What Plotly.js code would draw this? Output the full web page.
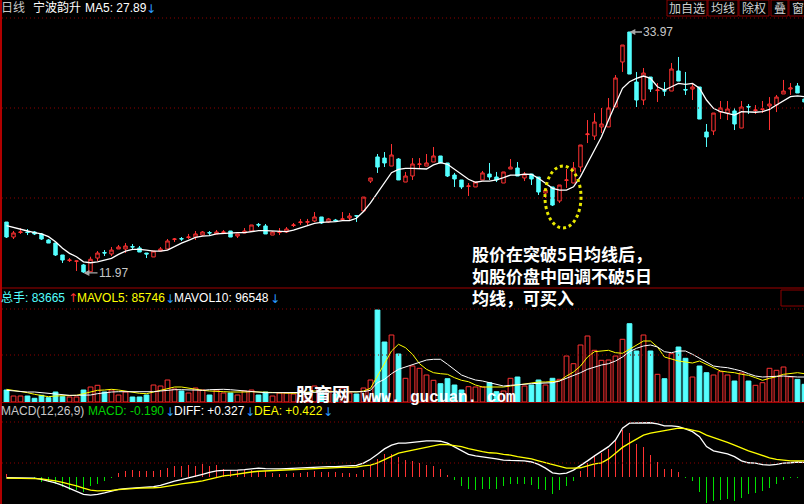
<!DOCTYPE html>
<html><head><meta charset="utf-8">
<script src="https://cdn.plot.ly/plotly-3.0.1.min.js"></script>
<style>html,body{margin:0;padding:0;background:#000;}#chart{width:804px;height:504px;}</style>
</head><body><div id="chart"></div>
<script>
// ---- daily OHLC of 宁波韵升 ----
const openP = [16.62,15.25,15.66,15.71,15.71,15.53,14.98,14.70,13.61,13.10,13.04,12.70,12.08,13.33,13.84,13.70,14.16,14.16,14.38,14.25,13.79,13.43,13.97,14.16,15.03,15.11,15.20,15.25,15.43,15.66,15.53,15.66,15.80,15.34,15.62,15.80,16.40,16.26,15.43,15.66,15.71,16.30,16.57,16.60,16.71,17.08,16.62,16.80,16.85,16.99,17.20,17.63,20.36,22.56,22.46,21.73,22.37,20.27,20.82,21.88,21.73,22.10,22.65,22.01,20.91,20.46,19.87,19.82,20.46,21.00,20.73,20.18,21.46,21.55,20.64,21.00,20.73,19.27,19.82,18.54,20.42,20.18,21.64,24.60,24.47,25.30,25.30,27.12,31.23,33.97,29.40,27.76,29.86,28.62,28.62,28.58,30.41,28.72,28.76,28.95,24.84,24.93,26.66,26.57,26.76,25.20,27.17,26.80,26.90,27.21,27.30,28.31,28.76,29.04,27.85];
const highP = [16.62,15.80,16.07,15.98,15.80,15.62,15.07,14.70,13.61,13.33,13.10,12.79,13.45,13.97,14.06,14.34,14.52,14.70,14.61,14.43,13.79,13.97,14.34,15.07,15.16,15.25,15.53,15.80,15.80,15.80,15.89,15.89,15.80,15.53,16.07,16.35,16.53,16.44,15.80,16.07,16.16,16.53,16.90,16.90,17.53,17.08,16.99,16.90,17.53,17.44,17.26,18.90,20.64,22.83,23.01,23.74,22.46,21.19,22.46,22.46,22.83,23.47,22.65,22.01,21.10,20.46,20.18,20.27,21.28,22.01,21.19,21.19,22.37,22.10,21.19,21.00,20.73,19.73,19.82,20.00,21.46,22.10,23.65,25.93,26.57,27.03,27.94,30.04,32.78,33.97,30.32,30.68,29.86,29.31,29.40,31.14,31.69,30.32,29.31,28.95,25.57,26.57,27.67,27.67,27.03,27.67,27.39,27.30,27.67,28.03,28.22,29.59,29.31,29.31,27.85];
const lowP = [15.16,15.07,15.53,15.43,15.43,14.98,14.70,13.52,12.88,12.97,12.15,11.97,12.06,13.06,13.52,13.52,14.16,13.79,14.06,13.88,13.33,13.43,13.97,14.16,14.80,14.89,15.07,14.98,15.34,15.43,15.53,15.53,15.25,15.16,15.62,15.71,16.16,15.53,15.43,15.43,15.62,16.16,16.35,16.35,16.62,16.44,16.53,16.71,16.80,16.71,16.62,17.63,20.18,21.10,21.64,21.73,20.46,20.27,20.46,21.55,21.73,22.10,22.01,20.73,19.82,19.63,19.00,19.82,20.46,20.46,20.27,20.18,21.46,20.82,20.36,20.00,19.09,18.81,18.08,18.36,19.73,20.18,21.19,23.83,24.11,24.75,25.30,27.12,30.32,30.13,27.12,27.30,28.49,27.58,28.13,28.58,29.49,28.22,27.76,26.02,23.47,24.56,26.02,25.93,25.02,25.20,26.48,26.48,26.57,25.02,26.66,28.31,28.22,28.40,27.58];
const closeP = [15.25,15.62,15.71,15.66,15.53,15.07,14.70,13.61,13.15,13.15,13.06,12.06,13.22,13.79,13.79,14.06,14.34,14.43,14.34,13.88,13.70,13.97,14.16,14.89,15.07,15.07,15.25,15.53,15.71,15.62,15.71,15.71,15.25,15.53,15.80,16.35,16.35,15.53,15.71,15.71,15.98,16.35,16.62,16.65,17.08,16.53,16.90,16.71,16.90,17.17,17.17,18.90,20.64,21.64,22.01,22.74,20.46,20.82,21.92,21.92,22.01,22.65,22.01,20.82,20.55,19.82,19.91,20.27,21.10,20.73,20.46,21.19,21.64,20.82,21.00,20.55,19.36,19.54,18.17,20.00,20.46,21.55,23.65,24.66,25.75,25.57,27.03,29.77,32.78,30.13,27.76,30.22,28.76,28.67,28.58,30.59,29.49,28.67,28.95,26.02,24.38,26.57,27.03,26.94,25.57,27.12,27.12,26.85,26.94,27.39,28.03,28.58,28.86,28.40,27.58];
const ma5 = [16.28,16.10,15.98,15.80,15.65,15.53,15.28,14.82,14.22,13.76,13.45,12.99,12.90,12.99,13.15,13.31,13.67,13.97,14.13,14.13,14.06,13.97,13.97,14.06,14.37,14.70,14.95,15.21,15.34,15.37,15.53,15.59,15.59,15.65,15.65,15.74,15.83,15.83,15.80,15.80,15.74,15.89,16.10,16.26,16.50,16.59,16.59,16.65,16.74,16.74,16.96,17.58,18.36,19.27,20.16,21.12,21.43,21.52,21.52,21.52,21.46,21.83,22.04,21.89,21.43,20.91,20.52,20.25,20.36,20.36,20.46,20.67,20.91,20.91,21.00,20.98,20.61,20.16,19.70,19.54,19.54,19.84,20.76,21.98,23.20,24.41,25.93,27.46,28.83,29.43,29.74,29.95,29.74,28.97,28.67,28.97,29.28,29.19,29.28,28.83,27.76,27.00,26.69,26.55,26.39,26.69,26.64,26.64,26.69,26.91,27.30,27.70,28.06,28.13,28.06];
// ---- volume (手) ----
const volume = [44400,22200,22200,22200,13700,24800,15900,37000,19600,18500,18500,44400,55500,61800,37000,44400,25900,37000,18500,18500,25900,62900,59200,81400,48100,40700,33300,51800,44400,25900,44400,33300,33300,25900,40700,44400,25900,37000,22200,33300,33300,29600,51800,33300,59200,33300,51800,29600,51800,33300,29600,51800,81400,340400,222000,247900,177600,87700,133200,124700,99900,80300,67700,86200,62900,44400,56600,55500,55500,71400,38100,40700,87700,92500,59200,62900,81400,62900,87700,84000,170200,141700,210900,244200,191300,154300,155400,170200,232000,289700,188700,247900,188700,102500,86200,178700,203500,161700,92500,133200,108400,99900,112100,99900,77700,107300,77700,61800,71400,124700,117300,129500,92500,83665,65500];
const mavol5 = [47000,43300,40700,34400,28500,24800,19600,22200,22200,22200,24800,30700,38100,43300,44400,47000,44400,40700,34400,32200,30700,37000,43300,49200,55500,55500,50700,45500,43300,40700,40700,38100,37000,35900,37000,38100,37000,38100,34400,33300,33300,32200,34400,35900,40700,39600,40700,37000,38100,38100,37000,40700,50700,96200,145400,188700,213500,200900,176500,141700,121000,108400,104700,102500,89900,80300,75100,62900,55500,55500,55500,55500,59200,62900,65500,70300,74000,74000,75100,77700,96200,111000,133200,166500,186100,188700,191300,182400,180200,195000,210900,225700,225700,203500,166500,158000,151700,148000,144300,151700,139500,129500,114700,111000,108400,102500,98800,89900,80300,87700,93600,102500,104700,108400,104700];
const mavol10 = [43300,40700,38100,37000,37000,34400,30700,28500,25900,24800,24800,24800,25900,30700,34400,37000,38100,38100,37000,37000,37000,38100,40700,43300,45500,45500,44400,43300,43300,45500,47000,47000,45500,43300,40700,38100,35900,34400,34400,34400,33300,33300,34400,34400,35900,35900,37000,37000,37000,37000,38100,38100,43300,71400,84000,104700,121000,129500,136900,148000,155400,158000,158000,139500,121000,99900,89900,81400,77700,71400,65500,59200,61800,62900,65500,67700,69200,70300,71400,77700,87700,96200,108400,121000,129500,136900,141700,151700,166500,186100,198700,207200,210900,203500,186100,182400,188700,188700,176500,161700,148000,133200,129500,126900,121000,114700,104700,96200,92500,92500,95100,96200,93600,92500,92500];
// ---- MACD(12,26,9) ----
const macd = [0.08,-0.01,-0.01,-0.01,-0.02,-0.13,-0.13,-0.18,-0.26,-0.34,-0.34,-0.39,-0.23,-0.18,-0.10,-0.03,0.10,0.16,0.18,0.16,0.16,0.16,0.18,0.23,0.29,0.29,0.31,0.29,0.34,0.29,0.31,0.21,0.18,0.18,0.18,0.18,0.16,0.16,0.10,0.08,0.08,0.10,0.10,0.13,0.16,0.13,0.13,0.13,0.10,0.10,0.08,0.18,0.31,0.47,0.60,0.60,0.52,0.44,0.42,0.36,0.31,0.29,0.21,0.05,-0.08,-0.23,-0.31,-0.34,-0.31,-0.31,-0.31,-0.23,-0.18,-0.18,-0.18,-0.21,-0.31,-0.34,-0.44,-0.34,-0.23,-0.10,0.16,0.36,0.55,0.62,0.73,0.94,1.22,1.14,0.86,0.78,0.57,0.39,0.21,0.21,0.13,-0.03,-0.10,-0.39,-0.68,-0.62,-0.60,-0.57,-0.62,-0.55,-0.44,-0.42,-0.36,-0.29,-0.18,-0.08,-0.03,-0.03,-0.03];
const diff = [-0.02,-0.02,-0.02,-0.03,-0.03,-0.06,-0.10,-0.15,-0.22,-0.30,-0.38,-0.45,-0.47,-0.45,-0.41,-0.36,-0.32,-0.30,-0.29,-0.27,-0.26,-0.25,-0.22,-0.16,-0.11,-0.07,-0.03,0.03,0.07,0.12,0.16,0.17,0.17,0.18,0.19,0.21,0.23,0.22,0.21,0.21,0.22,0.23,0.24,0.25,0.26,0.27,0.27,0.27,0.28,0.29,0.30,0.36,0.46,0.59,0.73,0.83,0.88,0.88,0.90,0.92,0.94,0.94,0.93,0.88,0.79,0.68,0.59,0.55,0.53,0.50,0.47,0.44,0.43,0.43,0.42,0.39,0.33,0.23,0.11,0.08,0.10,0.18,0.29,0.42,0.55,0.66,0.79,0.96,1.27,1.40,1.40,1.41,1.41,1.38,1.33,1.33,1.31,1.25,1.18,1.05,0.79,0.68,0.63,0.60,0.53,0.42,0.37,0.36,0.32,0.31,0.33,0.36,0.37,0.39,0.38];
const dea = [-0.03,-0.03,-0.03,-0.03,-0.04,-0.05,-0.07,-0.10,-0.14,-0.18,-0.23,-0.29,-0.34,-0.36,-0.36,-0.35,-0.33,-0.31,-0.30,-0.29,-0.29,-0.28,-0.27,-0.23,-0.21,-0.18,-0.16,-0.13,-0.10,-0.06,-0.03,0.03,0.05,0.08,0.10,0.13,0.15,0.16,0.17,0.18,0.18,0.19,0.20,0.21,0.22,0.23,0.23,0.24,0.25,0.25,0.26,0.29,0.31,0.37,0.46,0.53,0.62,0.66,0.70,0.74,0.77,0.81,0.85,0.84,0.82,0.79,0.74,0.69,0.66,0.63,0.62,0.59,0.57,0.53,0.50,0.47,0.42,0.37,0.31,0.27,0.23,0.23,0.24,0.29,0.34,0.37,0.47,0.62,0.77,0.88,0.98,1.09,1.14,1.18,1.20,1.24,1.27,1.26,1.22,1.18,1.09,1.03,0.96,0.90,0.83,0.75,0.68,0.62,0.55,0.50,0.46,0.43,0.42,0.42,0.42];

const RED = '#FF3232', CYAN = '#54FFFF', GREEN = '#00E000', YEL = '#FFFF00', GRID = '#8C0000';
const W = 804, H = 504;
const fx = x => x / W, fy = y => 1 - y / H;
const idx = closeP.map((_, i) => i);
const up = closeP.map((c, i) => c >= openP[i]);

const traces = [
  {type:'candlestick', x:idx, open:openP, high:highP, low:lowP, close:closeP, xaxis:'x', yaxis:'y',
   increasing:{line:{color:RED,width:1}, fillcolor:'#000000'},
   decreasing:{line:{color:CYAN,width:1}, fillcolor:CYAN},
   whiskerwidth:0, hoverinfo:'skip'},
  {type:'scatter', mode:'lines', x:idx, y:ma5, xaxis:'x', yaxis:'y', line:{color:'#FFFFFF', width:1.3}, hoverinfo:'skip'},
  {type:'bar', x:idx, y:volume, xaxis:'x', yaxis:'y2', width:0.68,
   marker:{color: up.map(u => u ? '#000000' : CYAN), line:{color: up.map(u => u ? RED : CYAN), width:1}}, hoverinfo:'skip'},
  {type:'scatter', mode:'lines', x:idx, y:mavol5, xaxis:'x', yaxis:'y2', line:{color:YEL, width:1}, hoverinfo:'skip'},
  {type:'scatter', mode:'lines', x:idx, y:mavol10, xaxis:'x', yaxis:'y2', line:{color:'#FFFFFF', width:1}, hoverinfo:'skip'},
  {type:'bar', x:idx, y:macd, xaxis:'x', yaxis:'y3', width:0.16,
   marker:{color: macd.map(v => v >= 0 ? RED : GREEN), line:{width:0}}, hoverinfo:'skip'},
  {type:'scatter', mode:'lines', x:idx, y:diff, xaxis:'x', yaxis:'y3', line:{color:'#FFFFFF', width:1.3}, hoverinfo:'skip'},
  {type:'scatter', mode:'lines', x:idx, y:dea, xaxis:'x', yaxis:'y3', line:{color:YEL, width:1.3}, hoverinfo:'skip'}
];

const hidden = {showgrid:false, zeroline:false, showticklabels:false, showline:false, ticks:''};
const shapes = [];
[18, 108, 198, 309, 355, 422, 463].forEach(y => shapes.push({type:'line', xref:'paper', yref:'paper', x0:fx(2), x1:1, y0:fy(y), y1:fy(y), line:{color:GRID, width:1, dash:'1px,3px'}}));
[288, 402.5].forEach(y => shapes.push({type:'line', xref:'paper', yref:'paper', x0:0, x1:1, y0:fy(y), y1:fy(y), line:{color:'#A00000', width:1}}));
shapes.push({type:'line', xref:'paper', yref:'paper', x0:fx(1), x1:fx(1), y0:0, y1:1, line:{color:'#B00000', width:2}});
const buttons = [[667,707,'加自选'],[708,738,'均线'],[739,769,'除权'],[771,788,'叠'],[789,806,'窗']];
buttons.forEach(b => shapes.push({type:'rect', xref:'paper', yref:'paper', x0:fx(b[0]), x1:fx(b[1]), y0:fy(16), y1:fy(0), line:{color:'#8C0000', width:1}}));
shapes.push({type:'rect', xref:'paper', yref:'paper', x0:fx(781), x1:fx(806), y0:fy(306), y1:fy(290), line:{color:'#8C0000', width:1}});
shapes.push({type:'circle', xref:'paper', yref:'paper', x0:fx(545), x1:fx(581), y0:fy(228), y1:fy(166), line:{color:'#E8E800', width:3, dash:'3px,3px'}});

const FONT = 'Liberation Sans, Arial, Noto Sans CJK SC, sans-serif';
const anns = [];
function lab(x, y, text, color, size, family, bold, anchor) {
  anns.push({xref:'paper', yref:'paper', x:fx(x), y:fy(y), xanchor:anchor || 'left', yanchor:'middle', align:'left', showarrow:false,
    text: bold ? '<b>' + text + '</b>' : text, font:{color:color, size:size || 12, family:family || FONT}, borderpad:0, borderwidth:0});
}
const ARW = '#2A9BFF', AF = 'DejaVu Sans, sans-serif';
lab(1, 8, '日线', '#C8C8C8');
lab(33, 8, '宁波韵升', '#FFFFFF');
lab(85, 8, 'MA5: 27.89', '#FFFFFF');
lab(146, 9, '↓', ARW, 12, AF);
buttons.forEach(b => lab((b[0]+b[1])/2, 8, b[2], '#D0D0D0', 12, 'Noto Sans CJK SC', false, 'center'));
lab(1, 298, '总手: 83665', CYAN);
lab(68, 298, '↑', RED, 12, AF);
lab(77, 298, 'MAVOL5: 85746', YEL);
lab(165, 299, '↓', ARW, 12, AF);
lab(174, 298, 'MAVOL10: 96548', '#FFFFFF');
lab(270, 299, '↓', ARW, 12, AF);
lab(1, 411, 'MACD(12,26,9)', '#C8C8C8');
lab(88, 411, 'MACD: -0.190', '#00D000');
lab(165, 412, '↓', ARW, 12, AF);
lab(174, 411, 'DIFF: +0.327', '#FFFFFF');
lab(245, 412, '↓', ARW, 12, AF);
lab(254, 411, 'DEA: +0.422', YEL);
lab(323, 412, '↓', ARW, 12, AF);
const CJK = 'Noto Sans CJK SC, sans-serif';
lab(472, 275, '股价在突破5日均线后，<br>如股价盘中回调不破5日<br>均线，可买入', '#FFFFFF', 17, CJK, true);
lab(296, 393, '股育网', '#FFFFFF', 18, CJK, true);
lab(362, 398, 'www. gucuan. com', '#FFFFFF', 16, 'Liberation Mono, monospace', true);
const hi = Math.max(...highP), lo = Math.min(...lowP);
const hiI = highP.indexOf(hi), loI = lowP.indexOf(lo);
anns.push({x:hiI, y:hi, xref:'x', yref:'y', text:hi.toFixed(2), showarrow:true, ax:29, ay:0, arrowhead:2, arrowsize:0.9, arrowwidth:1.3, arrowcolor:'#A8A8A8', standoff:0, font:{color:'#C8C8C8', size:12, family:FONT}});
anns.push({x:loI, y:lo, xref:'x', yref:'y', text:lo.toFixed(2), showarrow:true, ax:30, ay:0, arrowhead:2, arrowsize:0.9, arrowwidth:1.3, arrowcolor:'#A8A8A8', standoff:0, font:{color:'#C8C8C8', size:12, family:FONT}});

const layout = {
  width:W, height:H, margin:{l:0,r:0,t:0,b:0}, paper_bgcolor:'#000000', plot_bgcolor:'#000000', showlegend:false,
  bargap:0, dragmode:false, hovermode:false,
  xaxis: Object.assign({range:[-0.93, 113.93], rangeslider:{visible:false}, anchor:'y'}, hidden),
  yaxis: Object.assign({domain:[fy(288), fy(18)], range:[10.596, 35.247], anchor:'x'}, hidden),
  yaxis2: Object.assign({domain:[fy(402), fy(288)], range:[0, 421800], anchor:'x'}, hidden),
  yaxis3: Object.assign({domain:[0, fy(403)], range:[-0.702, 1.924], anchor:'x'}, hidden),
  shapes: shapes, annotations: anns
};
Plotly.newPlot('chart', traces, layout, {staticPlot:true, displayModeBar:false});
</script></body></html>
